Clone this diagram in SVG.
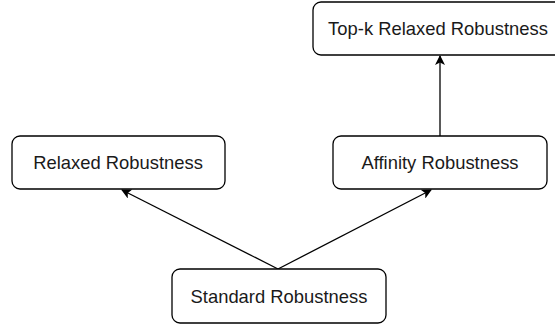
<svg xmlns="http://www.w3.org/2000/svg" width="555" height="327" viewBox="0 0 555 327">
<style>
.box{fill:#fff;stroke:#000;stroke-width:1.3}
.lbl{font-family:"Liberation Sans",Arial,sans-serif;font-size:18.4px;fill:#1a1a1a;text-anchor:middle;dominant-baseline:central}
.edge{stroke:#000;stroke-width:1.3;fill:none}
</style>
<defs>
<marker id="arr" viewBox="0 0 10 10" refX="9" refY="5" markerWidth="10" markerHeight="10" markerUnits="userSpaceOnUse" orient="auto">
<path d="M0,0 L10,5 L0,10 L2.5,5 Z" fill="#000"/>
</marker>
</defs>
<g id="connectors">
<path class="edge" d="M278,269 L122,190" marker-end="url(#arr)"/>
<path class="edge" d="M278,269 L431,190" marker-end="url(#arr)"/>
<path class="edge" d="M440,136 L440,56" marker-end="url(#arr)"/>
</g>
<g id="topk">
<rect class="box" x="313" y="2" width="252" height="53" rx="8"/>
<text class="lbl" x="438" y="28.5">Top-k Relaxed Robustness</text>
</g>
<g id="relaxed">
<rect class="box" x="12" y="136" width="213" height="53" rx="8"/>
<text class="lbl" x="118" y="162.5">Relaxed Robustness</text>
</g>
<g id="affinity">
<rect class="box" x="333" y="136" width="214" height="53" rx="8"/>
<text class="lbl" x="440" y="162.5">Affinity Robustness</text>
</g>
<g id="standard">
<rect class="box" x="172" y="269" width="214" height="54" rx="8"/>
<text class="lbl" x="279" y="296">Standard Robustness</text>
</g>
</svg>
